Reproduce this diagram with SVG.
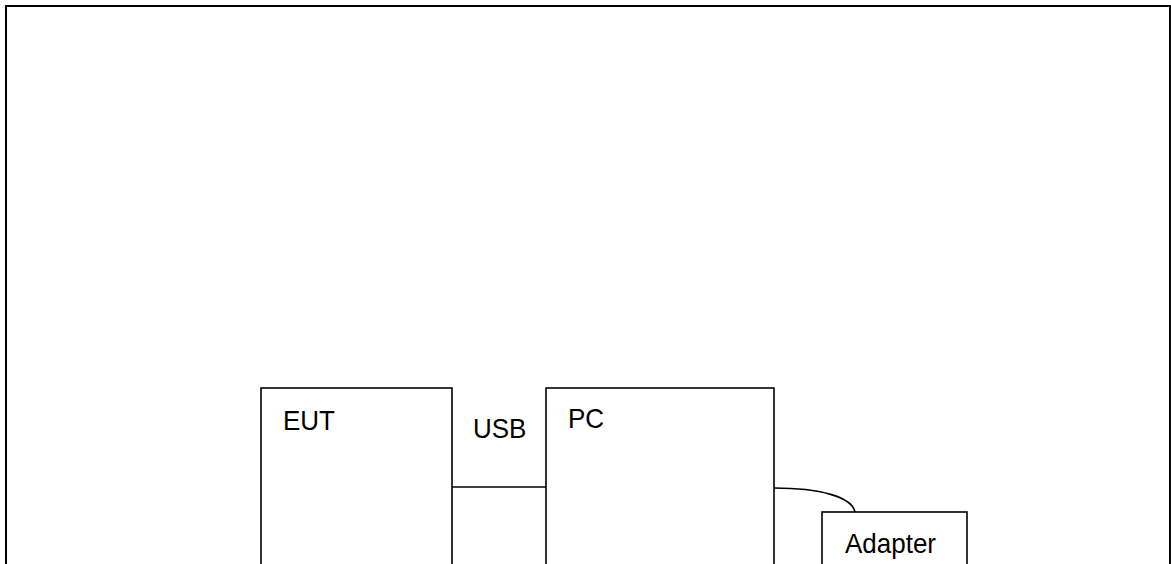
<svg xmlns="http://www.w3.org/2000/svg" width="1171" height="564" viewBox="0 0 1171 564">
<style>
.box{fill:#fff;stroke:#000;stroke-width:1.6}
.frame{fill:#fff;stroke:#000;stroke-width:2}
.lbl{font-family:"Liberation Sans",Arial,sans-serif;font-size:26px;fill:#000}
.wire{fill:none;stroke:#000;stroke-width:1.6}
</style>
<rect class="frame" x="6" y="6" width="1164" height="620"/>
<g id="connectors">
<line class="wire" x1="452" y1="487" x2="546" y2="487"/>
<path class="wire" d="M774,488 C820,488 852,497 855,512"/>
<text class="lbl" transform="translate(473,438) scale(1,1.08)">USB</text>
</g>
<g id="eut">
<rect class="box" x="261" y="388" width="191" height="200"/>
<text class="lbl" transform="translate(283,430) scale(1,1.08)">EUT</text>
</g>
<g id="pc">
<rect class="box" x="546" y="388" width="228" height="200"/>
<text class="lbl" transform="translate(568,428) scale(1,1.08)">PC</text>
</g>
<g id="adapter">
<rect class="box" x="822" y="512" width="145" height="80"/>
<text class="lbl" transform="translate(845,553) scale(1,1.08)">Adapter</text>
</g>
</svg>
